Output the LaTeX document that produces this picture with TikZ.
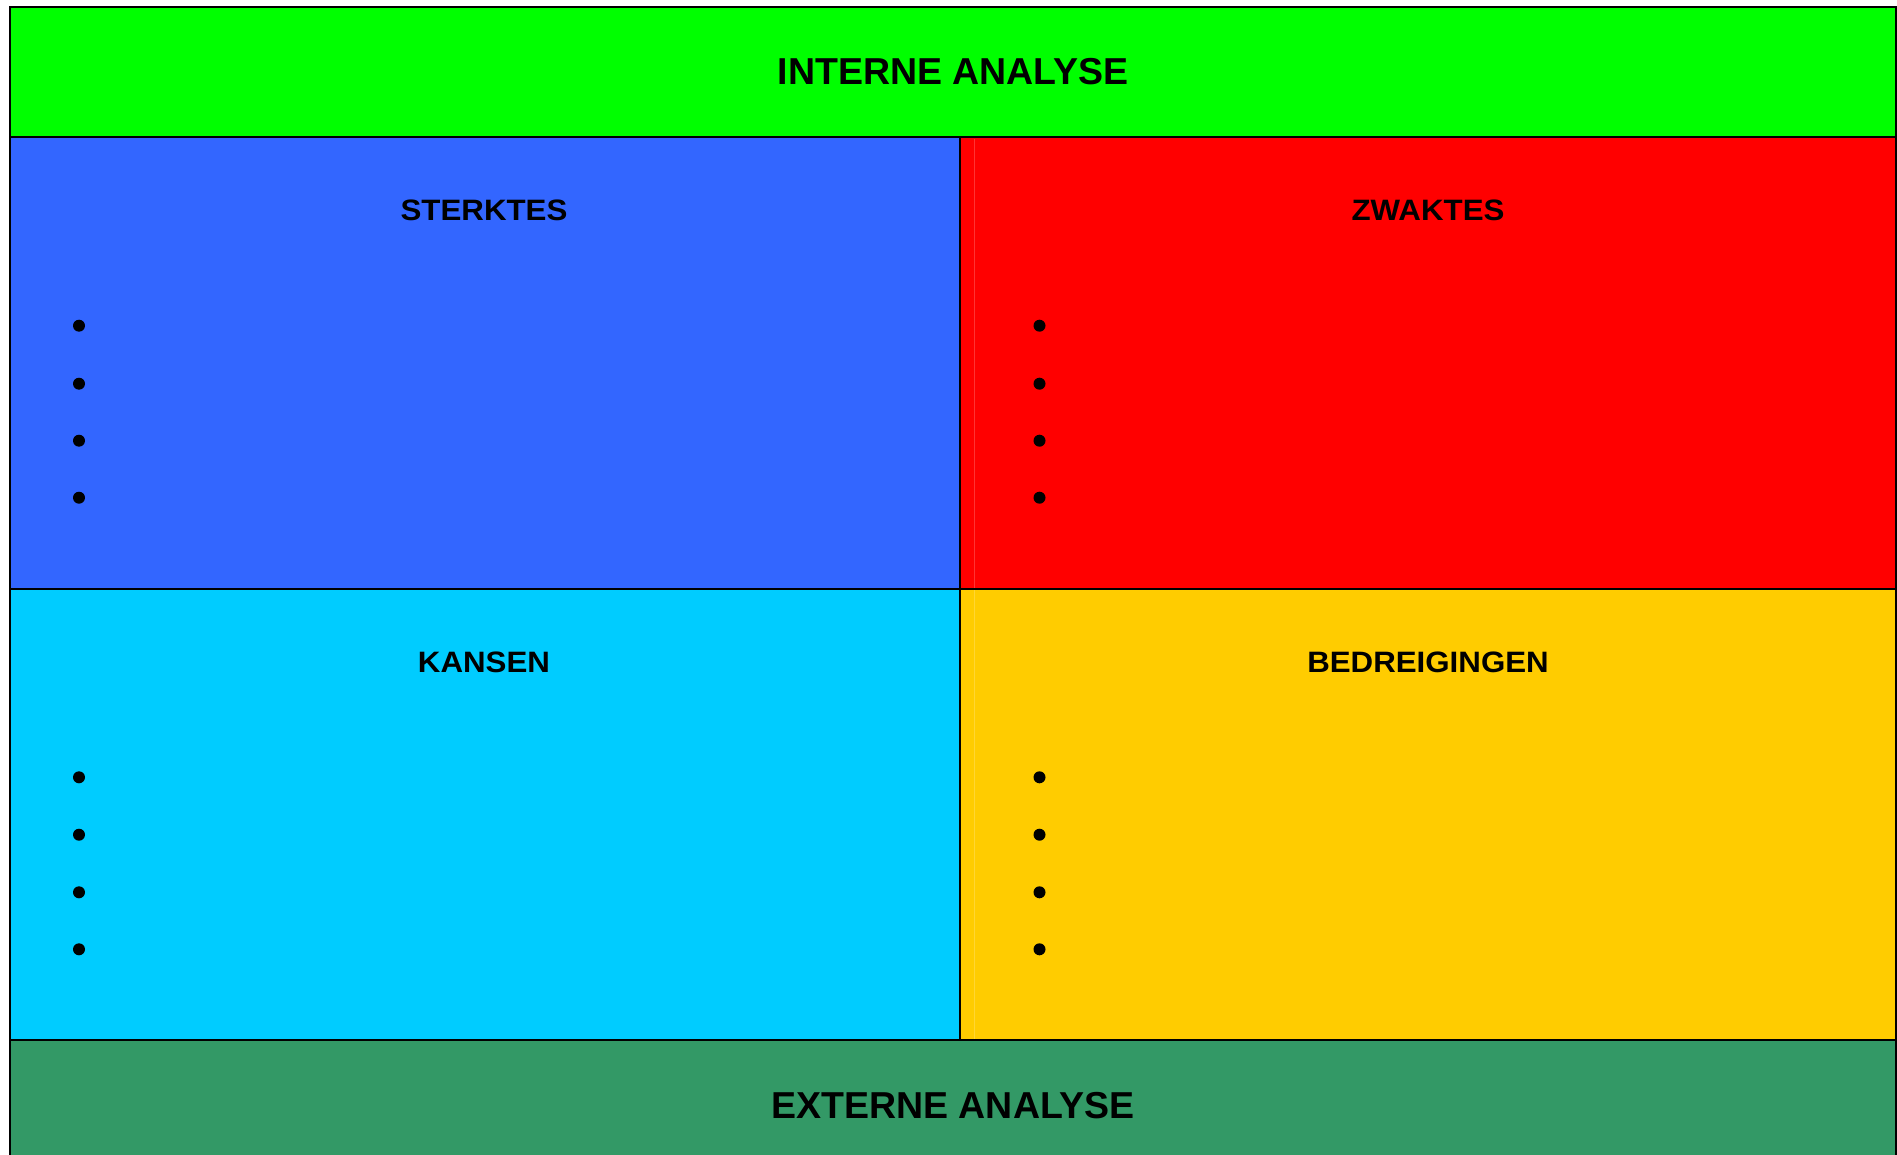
\documentclass[tikz,border=0pt]{standalone}
\usepackage{fontspec}
\usepackage{graphicx}
\setmainfont{Liberation Sans}
\definecolor{intgreen}{HTML}{00FF00}
\definecolor{strblue}{HTML}{3366FF}
\definecolor{weakred}{HTML}{FF0000}
\definecolor{oppcyan}{HTML}{00CCFF}
\definecolor{thryellow}{HTML}{FFCC00}
\definecolor{extgreen}{HTML}{339966}
\tikzset{
  panel/.style={draw=black, line width=2pt},
  bandtitle/.style={inner sep=0pt, font=\bfseries\fontsize{37.5}{40}\selectfont},
  celltitle/.style={inner sep=0pt, font=\bfseries\fontsize{29.5}{32}\selectfont},
  dot/.style={circle, fill=black, inner sep=0pt, minimum size=12pt},
}
\newcommand{\wide}[1]{\scalebox{1.06}[1]{#1}}
\begin{document}
\begin{tikzpicture}[x=1pt, y=-1pt]
  \useasboundingbox (0,0) rectangle (1897,1155);
  % coloured fields
  \fill[intgreen]  (10,7)    rectangle (1896,137);
  \fill[strblue]   (10,137)  rectangle (960,589);
  \fill[weakred]   (960,137) rectangle (1896,589);
  \fill[oppcyan]   (10,589)  rectangle (960,1040);
  \fill[thryellow] (960,589) rectangle (1896,1040);
  \fill[extgreen]  (10,1040) rectangle (1896,1160);
  % faint seams in the right column
  \draw[white, opacity=0.2, line width=1pt] (974,139) -- (974,1039);
  % grid lines
  \draw[panel] (10,1160) -- (10,7) -- (1896,7) -- (1896,1160);
  \draw[panel] (10,137) -- (1896,137);
  \draw[panel] (10,589) -- (1896,589);
  \draw[panel] (10,1040) -- (1896,1040);
  \draw[panel] (960,137) -- (960,1040);
  % headings
  \node[bandtitle] (interne) at (953,71.5) {INTERNE ANALYSE};
  \node[bandtitle] (externe) at (953,1105.5) {EXTERNE ANALYSE};
  \node[celltitle] (sterktes) at (484,210.7) {\wide{STERKTES}};
  \node[celltitle] (zwaktes) at (1428,210.7) {\wide{ZWAKTES}};
  \node[celltitle] (kansen) at (484,662.7) {\wide{KANSEN}};
  \node[celltitle] (bedreigingen) at (1428,662.7) {\wide{BEDREIGINGEN}};
  % bullet points
  \foreach \i/\y in {1/325.7, 2/383.7, 3/440.7, 4/497.7} {
    \node[dot] (s\i) at (79,\y) {};
    \node[dot] (z\i) at (1039.5,\y) {};
  }
  \foreach \i/\y in {1/777.3, 2/834.7, 3/892.3, 4/949.3} {
    \node[dot] (k\i) at (79,\y) {};
    \node[dot] (b\i) at (1039.5,\y) {};
  }
\end{tikzpicture}
\end{document}
